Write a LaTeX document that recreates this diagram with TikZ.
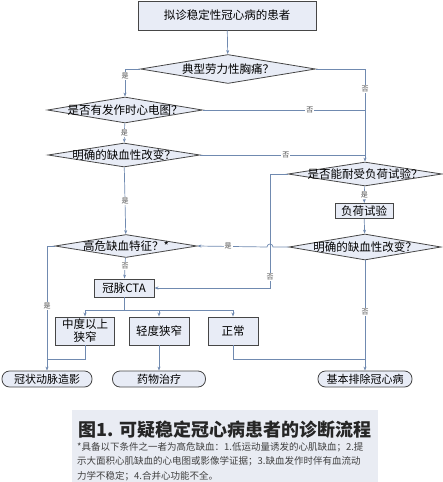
\documentclass[tikz,border=0pt]{standalone}
\usepackage{fontspec}
\setmainfont{Noto Sans CJK SC}
\usepackage{xcolor}
\usetikzlibrary{arrows.meta,positioning,shapes.geometric,calc}

\definecolor{flowline}{RGB}{112,138,176}
\definecolor{boxfill}{RGB}{232,236,246}
\definecolor{boxdraw}{RGB}{70,70,70}
\definecolor{capfill}{RGB}{233,236,243}

\newcommand{\zw}[1]{\makebox[0pt]{#1}}

\begin{document}
\begin{tikzpicture}[x=1pt, y=-1pt,
    >={Stealth[length=4pt,width=3pt]},
    proc/.style={draw=boxdraw, line width=0.9pt, fill=boxfill, inner sep=0pt,
        font=\fontsize{11.5}{13}\selectfont, align=center},
    decide/.style={diamond, draw=boxdraw, line width=0.8pt, fill=boxfill, inner sep=0pt,
        aspect=6, font=\fontsize{11.5}{13}\selectfont},
    term/.style={draw=boxdraw, line width=0.8pt, fill=boxfill, rounded corners=7.5pt,
        inner sep=0pt, minimum height=16pt, font=\fontsize{11}{12}\selectfont},
    flow/.style={flowline, line width=0.7pt},
    lbl/.style={fill=white, inner sep=1pt, font=\fontsize{7}{8}\selectfont, text=black!70}]

    \useasboundingbox (0,0) rectangle (443,482);

    % Decisions and boxes
    \node[proc, minimum width=178pt, minimum height=29pt] (start) at (227,15.5) {拟诊稳定性冠心病的患者};
    \node[decide, minimum width=175pt, minimum height=29pt] (typical) at (228,69) {\zw{典型劳力性胸痛？}};
    \node[decide, minimum width=155pt, minimum height=26pt] (ecg) at (125,110) {\zw{是否有发作时心电图？}};
    \node[decide, minimum width=152pt, minimum height=24pt] (ischA) at (124,155) {\zw{明确的缺血性改变？}};
    \node[decide, minimum width=154pt, minimum height=24pt] (tolerate) at (365,174) {\zw{是否能耐受负荷试验？}};
    \node[proc, minimum width=58pt, minimum height=15pt] (stress) at (364,211) {负荷试验};
    \node[decide, minimum width=152pt, minimum height=26pt] (ischB) at (365,247) {\zw{明确的缺血性改变？}};
    \node[decide, minimum width=142pt, minimum height=23pt] (risk) at (126,246) {\zw{高危缺血特征？*}};
    \node[proc, minimum width=60pt, minimum height=18pt] (cta) at (124,288) {冠脉CTA};

    % CTA results
    \node[proc, minimum width=59pt, minimum height=28pt] (severe) at (85,331) {中度以上\\狭窄};
    \node[proc, minimum width=60pt, minimum height=28pt] (mild) at (159,331) {轻度狭窄};
    \node[proc, minimum width=50pt, minimum height=28pt] (normal) at (233,331) {正常};

    % End points
    \node[term, minimum width=90pt] (angio) at (47,379) {冠状动脉造影};
    \node[term, minimum width=93pt] (drug) at (159,379) {药物治疗};
    \node[term, minimum width=94pt] (exclude) at (365,379) {基本排除冠心病};

    % Connectors
    \draw[flow, ->] (start) -- (typical);
    \draw[flow, ->] (typical.west) -| (ecg.north) node[lbl, pos=0.62] {是};
    \draw[flow, ->] (typical.east) -| (tolerate.north) node[lbl, pos=0.61] {否};
    \draw[flow] (ecg.east) -- (ecg.east -| tolerate.north) node[lbl, pos=0.66] {否};
    \draw[flow, ->] (ecg) -- (ischA) node[lbl, midway] {是};
    \draw[flow] (ischA.east) -- (ischA.east -| tolerate.north) node[lbl, pos=0.52] {否};
    \draw[flow, ->] (ischA) -- (risk) node[lbl, midway] {是};
    \draw[flow, ->] (tolerate) -- (stress) node[lbl, midway] {是};
    \draw[flow, ->] (stress) -- (ischB);

    % "No" from tolerance test back to CTA, with the jump over
    \coordinate (bend) at (270,174);
    \draw[flow, ->] (tolerate.west) -- (bend) |- (cta.east) node[lbl, pos=0.45] {否};
    \draw[flow, ->] (ischB.west) -- (273,247) arc[start angle=0, end angle=-180, radius=3]
        -- (risk.east) node[lbl, pos=0.56] {是};

    \draw[flow, ->] (risk) -- (cta) node[lbl, pos=0.4] {否};
    \draw[flow, ->] (risk.west) -| (angio.north) node[lbl, pos=0.74] {是};

    % CTA split
    \draw[flow] (cta.south) -- ++(0,13) coordinate (split);
    \draw[flow, ->] (split) -| (severe.north);
    \draw[flow, ->] (split) -| (normal.north);
    \draw[flow, ->] (split -| mild.north) -- (mild.north);

    \draw[flow] (severe.south) |- (angio.north |- 0,359);
    \draw[flow, ->] (mild) -- (drug);
    \draw[flow] (normal.south) |- (exclude.north |- 0,359);
    \draw[flow, ->] (ischB) -- (exclude) node[lbl, pos=0.47] {否};

    % Caption
    \fill[capfill] (72,410) rectangle (378,482);
    \node[font=\fontsize{18}{20}\selectfont\bfseries, text=black!85] (title) at (225,430)
        {图1. 可疑稳定冠心病患者的诊断流程};
    \node[anchor=north west, align=left, inner sep=0pt, text=black!75,
        font=\fontsize{9.5}{14.5}\selectfont] (note) at (77,442)
        {*具备以下条件之一者为高危缺血：1.低运动量诱发的心肌缺血；2.提\\
         示大面积心肌缺血的心电图或影像学证据；3.缺血发作时伴有血流动\\
         力学不稳定；4.合并心功能不全。};
\end{tikzpicture}
\end{document}
